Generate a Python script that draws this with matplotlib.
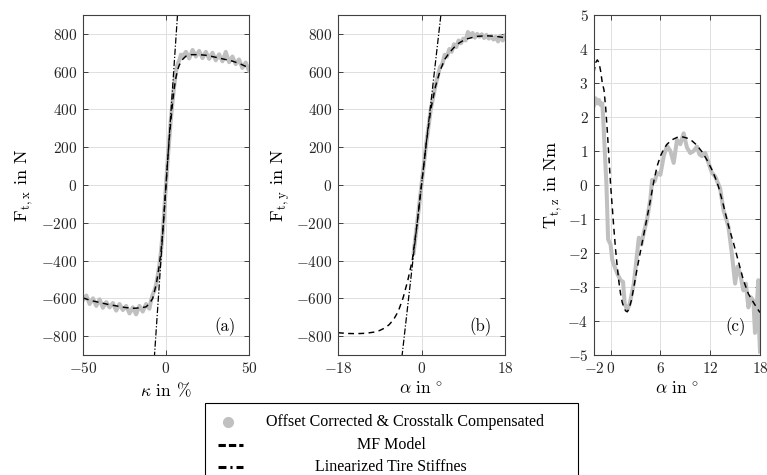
import matplotlib
matplotlib.use("Agg")
import matplotlib.pyplot as plt
from matplotlib.lines import Line2D
from matplotlib.patches import Rectangle

plt.rcParams.update({
    "font.family": "serif",
    "font.serif": ["cmr10"],
    "mathtext.fontset": "cm",
    "axes.formatter.use_mathtext": True,
    "axes.unicode_minus": True,
})

# ── (a) longitudinal force over slip ───────────────────────────────────────
kappa_meas = [-50, -48, -46, -44, -42, -40, -38, -36, -34, -32, -30, -28, -26,
              -24, -22, -20, -18, -16, -14, -12, -10, -9, -8, -7, -6, -5, -4,
              -3, -2, -1, 0, 1, 2, 3, 4, 5, 6, 7, 8, 9, 10, 12, 14, 16, 18, 20,
              22, 24, 26, 28, 30, 32, 34, 36, 38, 40, 42, 44, 46, 48, 50]
fx_meas = [-610, -585, -630, -600, -640, -605, -650, -620, -648, -625, -665,
           -630, -662, -640, -680, -648, -685, -640, -670, -630, -655, -610,
           -580, -560, -530, -480, -425, -350, -255, -130, 0, 130, 245, 355,
           445, 530, 600, 640, 660, 690, 680, 705, 670, 715, 680, 710, 672,
           705, 668, 700, 660, 692, 655, 705, 650, 680, 640, 665, 620, 648, 605]
kappa_mf = [-50, -45, -40, -35, -30, -25, -20, -15, -12, -10, -8, -6, -5, -4,
            -3, -2, -1, 0, 1, 2, 3, 4, 5, 6, 7, 8, 10, 12, 15, 20, 25, 30, 35,
            40, 45, 50]
fx_mf = [-598, -612, -622, -632, -640, -648, -653, -650, -645, -628, -600,
         -530, -480, -420, -350, -250, -130, 0, 130, 250, 350, 440, 515, 570,
         610, 635, 665, 682, 690, 690, 686, 676, 666, 656, 640, 620]
kappa_lin = [-7.5, 7.5]
fx_lin = [-975, 975]

# ── (b) lateral force over slip angle ──────────────────────────────────────
alpha_meas_b = [-1.7, -1, 0, 1, 2, 3, 3.5, 4, 4.5, 5, 5.5, 6, 6.5, 7, 7.5, 8,
                8.5, 9, 9.5, 10, 10.5, 11, 11.5, 12, 12.5, 13, 13.5, 14, 14.5,
                15, 15.5, 16, 16.5, 17, 17.5, 18]
fy_meas = [-360, -215, 0, 215, 400, 525, 575, 625, 640, 690, 680, 720, 705,
           745, 730, 765, 750, 775, 765, 810, 790, 805, 780, 800, 785, 798,
           778, 795, 775, 790, 770, 785, 760, 790, 765, 790]
alpha_mf_b = [-18, -16, -14, -12, -10, -9, -8, -7, -6, -5, -4, -3, -2, -1, 0,
              1, 2, 3, 4, 5, 6, 7, 8, 9, 10, 12, 14, 16, 18]
fy_mf = [-782, -786, -787, -785, -778, -770, -758, -740, -712, -668, -600,
         -510, -400, -215, 0, 215, 400, 520, 605, 665, 700, 728, 750, 765, 775,
         787, 790, 787, 780]
alpha_lin_b = [-4.5, 4.5]
fy_lin = [-970, 970]

# ── (c) aligning torque over slip angle ────────────────────────────────────
alpha_meas_c = [-2.0, -1.8, -1.6, -1.4, -1.2, -1.0, -0.9, -0.7, -0.5, -0.4,
                -0.3, 0.0, 0.2, 0.4, 0.8, 1.2, 1.5, 1.7, 2.0, 2.3, 2.8, 3.4,
                3.7, 4.0, 4.4, 4.8, 5.0, 5.3, 5.6, 6.0, 6.4, 6.8, 7.2, 7.6,
                8.0, 8.4, 8.8, 9.2, 9.6, 10.0, 10.4, 10.7, 11.0, 11.4, 11.8,
                12.2, 12.6, 13.2, 13.6, 14.2, 14.6, 15.0, 15.3, 15.6, 16.0,
                16.3, 16.6, 16.9, 17.2, 17.4, 17.6, 17.8, 17.9, 18.0]
tz_meas = [2.35, 2.55, 2.4, 2.5, 2.35, 2.4, 2.0, 1.0, 0.0, -0.8, -1.6, -1.75,
           -2.2, -2.35, -2.6, -2.8, -2.85, -3.5, -3.68, -3.5, -2.9, -1.55,
           -1.75, -1.4, -1.0, -0.4, 0.15, 0.1, 0.35, 0.3, 0.85, 1.15, 1.0,
           0.65, 1.33, 1.2, 1.52, 1.1, 0.94, 1.0, 1.13, 0.9, 0.85, 0.95, 0.65,
           0.36, 0.25, -0.1, -0.74, -1.23, -2.0, -2.9, -2.4, -2.6, -3.1, -2.9,
           -3.6, -3.3, -3.4, -4.35, -3.6, -2.8, -4.3, -4.9]
alpha_mf_c = [-2.0, -1.8, -1.6, -1.4, -1.2, -1.0, -0.8, -0.6, -0.4, -0.2, 0.0,
              0.2, 0.4, 0.6, 0.8, 1.0, 1.2, 1.4, 1.6, 1.8, 2.0, 2.2, 2.5, 2.8,
              3.2, 3.6, 4.0, 4.4, 4.8, 5.2, 5.6, 6.0, 6.4, 6.8, 7.4, 8.0, 8.6,
              9.2, 9.8, 10.4, 11.0, 11.6, 12.2, 12.6, 13.0, 13.6, 14.2, 14.8,
              15.4, 16.0, 16.6, 17.2, 17.8, 18.0]
tz_mf = [3.3, 3.6, 3.68, 3.6, 3.35, 3.0, 2.8, 2.3, 1.6, 0.8, 0.0, -0.65, -1.3,
         -1.9, -2.4, -2.85, -3.2, -3.45, -3.6, -3.7, -3.73, -3.65, -3.4, -3.0,
         -2.45, -1.95, -1.45, -0.95, -0.44, 0.1, 0.55, 0.85, 1.05, 1.2, 1.33,
         1.4, 1.42, 1.38, 1.3, 1.17, 0.98, 0.74, 0.45, 0.22, -0.05, -0.6,
         -1.2, -1.7, -2.25, -2.8, -3.2, -3.45, -3.68, -3.75]

legend_labels = ["Offset Corrected & Crosstalk Compensated", "MF Model",
                 "Linearized Tire Stiffnes"]

GRAY = "#c0c0c0"
MF_STYLE = dict(color="black", lw=1.05, linestyle=(0, (4, 3)))
LIN_STYLE = dict(color="black", lw=0.9, linestyle=(0, (5, 1.5, 1, 1.5)))

fig = plt.figure(figsize=(7.67, 4.75), dpi=100)
W, H = 767, 475


def add_axes(left_px, width_px):
    return fig.add_axes([left_px / W, (H - 355) / H, width_px / W, 340 / H])


def style(ax, letter):
    ax.grid(True, color="#dedede", lw=0.7)
    ax.set_axisbelow(True)
    ax.tick_params(direction="in", top=True, right=True, length=3.5,
                   width=0.6, labelsize=11, pad=4, colors="#262626")
    for sp in ax.spines.values():
        sp.set_color("#404040")
        sp.set_linewidth(0.8)
    ax.text(0.855, 0.083, letter, transform=ax.transAxes, ha="center",
            va="center", fontsize=12)
    ax.xaxis.set_label_coords(0.5, -0.075)


ax_a = add_axes(83, 166)
ax_a.plot(kappa_meas, fx_meas, color=GRAY, lw=2.9, solid_joinstyle="round")
ax_a.plot(kappa_mf, fx_mf, **MF_STYLE)
ax_a.plot(kappa_lin, fx_lin, **LIN_STYLE)
ax_a.set_xlim(-50, 50)
ax_a.set_ylim(-900, 900)
ax_a.set_xticks([-50, 0, 50])
ax_a.set_yticks(range(-800, 801, 200))
ax_a.set_xlabel(r"$\kappa$ in %", fontsize=12.5)
ax_a.set_ylabel(r"$\mathrm{F}_{\mathrm{t,x}}$ in N", fontsize=13)
style(ax_a, "(a)")
ax_a.yaxis.set_label_coords(-0.29, 0.5)

ax_b = add_axes(338, 167)
ax_b.plot(alpha_meas_b, fy_meas, color=GRAY, lw=2.9, solid_joinstyle="round")
ax_b.plot(alpha_mf_b, fy_mf, **MF_STYLE)
ax_b.plot(alpha_lin_b, fy_lin, **LIN_STYLE)
ax_b.set_xlim(-18, 18)
ax_b.set_ylim(-900, 900)
ax_b.set_xticks([-18, 0, 18])
ax_b.set_yticks(range(-800, 801, 200))
ax_b.set_xlabel(r"$\alpha$ in$\,^\circ$", fontsize=12.5)
ax_b.set_ylabel(r"$\mathrm{F}_{\mathrm{t,y}}$ in N", fontsize=13)
style(ax_b, "(b)")
ax_b.yaxis.set_label_coords(-0.275, 0.5)

ax_c = add_axes(594, 166)
ax_c.plot(alpha_meas_c, tz_meas, color=GRAY, lw=2.9, solid_joinstyle="round")
ax_c.plot(alpha_mf_c, tz_mf, **MF_STYLE)
ax_c.set_xlim(-2, 18)
ax_c.set_ylim(-5, 5)
ax_c.set_xticks([-2, 0, 6, 12, 18])
ax_c.set_yticks(range(-5, 6))
ax_c.set_xlabel(r"$\alpha$ in$\,^\circ$", fontsize=12.5)
ax_c.set_ylabel(r"$\mathrm{T}_{\mathrm{t,z}}$ in Nm", fontsize=13)
style(ax_c, "(c)")
ax_c.yaxis.set_label_coords(-0.18, 0.5)

# ── legend drawn by hand so the labels are centred ─────────────────────────
fig.add_artist(Rectangle((205 / W, -0.02), (578 - 205) / W, (475 - 403) / H + 0.02,
                         transform=fig.transFigure, facecolor="white",
                         edgecolor="black", lw=0.8))
rows_y = [422, 445, 467]
fig.add_artist(Line2D([228 / W], [1 - rows_y[0] / H], transform=fig.transFigure,
                      marker="o", markersize=7, color=GRAY, linestyle="none"))
fig.add_artist(Line2D([218 / W, 243 / W], [1 - rows_y[1] / H] * 2,
                      transform=fig.transFigure, color="black", lw=2.2,
                      linestyle=(0, (2.4, 1.0))))
fig.add_artist(Line2D([218 / W, 243 / W], [1 - rows_y[2] / H] * 2,
                      transform=fig.transFigure, color="black", lw=2.2,
                      linestyle=(0, (2.6, 1.3, 0.7, 1.3))))
text_x = [405, 391, 391]
for lbl, x, y in zip(legend_labels, text_x, rows_y):
    fig.text(x / W, 1 - y / H, lbl, ha="center", va="center", fontsize=11.5,
             family="Liberation Serif")

fig.savefig("out.png", dpi=100)
